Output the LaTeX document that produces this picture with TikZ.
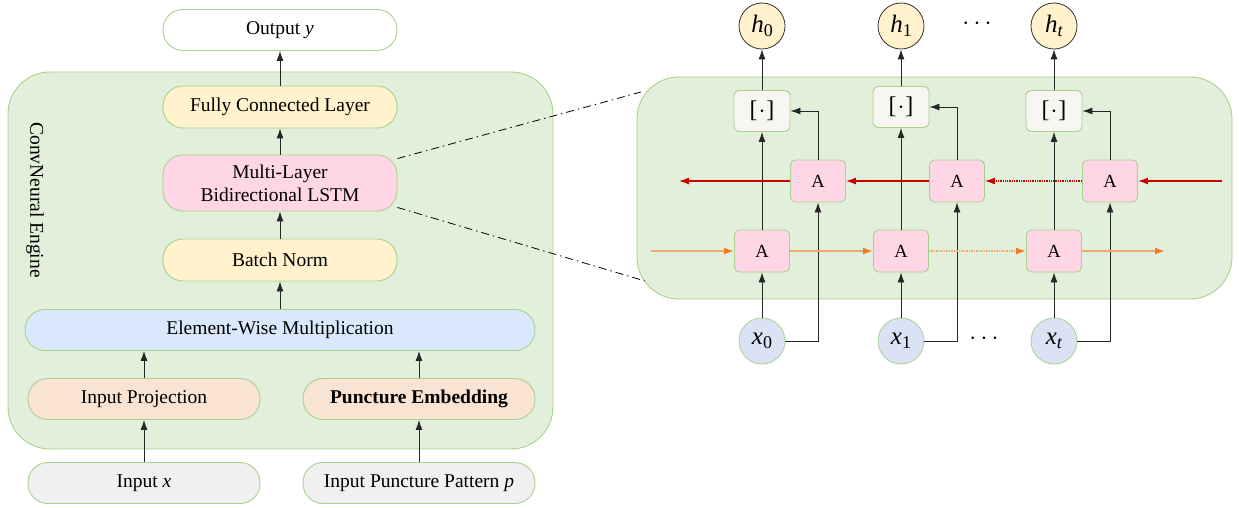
\documentclass[tikz,border=0pt]{standalone}
\usepackage{fontspec}
\setmainfont{Liberation Serif}
\usepackage{tikz}
\usetikzlibrary{arrows.meta}

\definecolor{engfill}{HTML}{E2EFDA}
\definecolor{engline}{HTML}{A9D18E}
\definecolor{fcfill}{HTML}{FFF2CC}
\definecolor{lstmfill}{HTML}{FFD6E6}
\definecolor{ewfill}{HTML}{DAE8FC}
\definecolor{projfill}{HTML}{F9E3D3}
\definecolor{infill}{HTML}{F0F0F0}
\definecolor{catfill}{HTML}{F7F6F3}
\definecolor{xfill}{HTML}{DAE3F3}
\definecolor{bwdred}{HTML}{CC0000}
\definecolor{fwdline}{HTML}{F0AA70}
\definecolor{fwdhead}{HTML}{F07C2A}

\newcommand\vsub[2]{\textit{#1}\raisebox{-.35ex}{\fontsize{18}{18}\selectfont #2}}

\tikzset{
  box/.style={draw=engline, line width=0.9pt, rounded corners=20pt,
    minimum width=234pt, minimum height=41pt, align=center,
    font=\fontsize{19.5}{23}\selectfont},
  cell/.style={draw=engline, line width=0.9pt, rounded corners=5pt, fill=lstmfill,
    minimum width=55pt, minimum height=42pt, font=\fontsize{18.5}{20}\selectfont},
  cat/.style={cell, fill=catfill, minimum width=56pt, minimum height=41pt,
    font=\fontsize{24}{24}\selectfont},
  state/.style={circle, draw=black!80, line width=0.8pt, fill=fcfill, inner sep=0pt,
    minimum size=46pt, font=\fontsize{25}{25}\selectfont},
  inp/.style={state, draw=engline, fill=xfill},
  arr/.style={-{Latex[length=10pt,width=7pt]}, line width=0.9pt, black!85},
  bwd/.style={-{Latex[length=10pt,width=7pt]}, line width=1.3pt, bwdred},
  fwd/.style={-{Latex[length=10pt,width=7pt,color=fwdhead]}, line width=1.5pt, fwdline},
  zoomline/.style={line width=0.8pt, dash pattern=on 8pt off 4pt on 1.5pt off 4pt}
}

\begin{document}
\begin{tikzpicture}[x=1pt,y=-1pt]
  \useasboundingbox (0,0) rectangle (1239,508);

  % Engine blocks
  \draw[engline, line width=0.9pt, fill=engfill, rounded corners=42pt]
    (8,72) rectangle (553,449); % engine
  \draw[engline, line width=0.9pt, fill=engfill, rounded corners=42pt]
    (637,77) rectangle (1232,299); % unrolled LSTM
  \node[rotate=-90, font=\fontsize{19.5}{23}\selectfont] (eng) at (35,200)
    {ConvNeural Engine};

  % Left stack
  \node[box, fill=white] (out) at (280,30) {Output \textit{y}};
  \node[box, fill=fcfill, minimum height=42pt] (fcl) at (280,107)
    {Fully Connected Layer};
  \node[box, fill=lstmfill, minimum height=56pt] (lstm) at (280,183)
    {Multi-Layer\\Bidirectional LSTM};
  \node[box, fill=fcfill, minimum height=42pt] (bn) at (280,260) {Batch Norm};
  \node[box, fill=ewfill, minimum width=510pt] (ewm) at (280,330)
    {Element-Wise Multiplication};
  \node[box, fill=projfill, minimum width=232pt] (proj) at (144,399)
    {Input Projection};
  \node[box, fill=projfill, minimum width=232pt] (pemb) at (419,399)
    {\textbf{Puncture Embedding}};
  \node[box, fill=infill, minimum width=232pt] (inx) at (144,483)
    {Input \textit{x}};
  \node[box, fill=infill, minimum width=232pt] (inpat) at (419,483)
    {Input Puncture Pattern \textit{p}};

  \draw[arr] (fcl) -- (out);
  \draw[arr] (lstm) -- (fcl);
  \draw[arr] (bn) -- (lstm);
  \draw[arr] (ewm) -- (bn);
  \draw[arr] (proj) -- (proj.north |- ewm.south);
  \draw[arr] (pemb) -- (pemb.north |- ewm.south);
  \draw[arr] (inx) -- (proj);
  \draw[arr] (inpat) -- (pemb);

  % Zoom lines
  \coordinate (zt) at (641,92);
  \coordinate (zb) at (645,281);
  \draw[zoomline] ([yshift=-4pt]lstm.north east) -- (zt);
  \draw[zoomline] ([yshift=4pt]lstm.south east) -- (zb);

  % Unrolled cells
  \foreach \i/\x/\cy/\s in {0/762/111/0, 1/901/107/1, 2/1054/111/{\textit{t}}} {
    \node[state] (h\i) at (\x,26) {\vsub{h}{\s}};
    \node[cat] (cat\i) at (\x,\cy) {[\kern1pt$\cdot$\kern1pt]};
    \node[cell] (bw\i) at (\x+56,181) {A};
    \node[cell] (fw\i) at (\x,251) {A};
    \node[inp] (x\i) at (\x,341) {\vsub{x}{\s}};
    \draw[arr] (x\i) -- (fw\i);
    \draw[arr] (fw\i) -- (cat\i);
    \draw[arr] (cat\i) -- (h\i);
    \draw[arr] (x\i.east) -| (bw\i);
    \draw[arr] (bw\i) |- (cat\i.east);
  }
  \node[font=\fontsize{28}{28}\selectfont] (dtop) at (977,24) {$\cdots$};
  \node[font=\fontsize{28}{28}\selectfont] (dbot) at (984,339) {$\cdots$};

  % Backward pass
  \coordinate (bwin) at (1222,181);
  \coordinate (bwout) at (679,181);
  \draw[bwd] (bwin) -- (bw2);
  \draw[bwd, densely dotted] (bw2) -- (bw1);
  \draw[bwd] (bw1) -- (bw0);
  \draw[bwd] (bw0) -- (bwout);

  % Forward pass
  \coordinate (fwin) at (651,251);
  \coordinate (fwout) at (1165,251);
  \draw[fwd] (fwin) -- (fw0);
  \draw[fwd] (fw0) -- (fw1);
  \draw[fwd, densely dotted] (fw1) -- (fw2);
  \draw[fwd] (fw2) -- (fwout);
\end{tikzpicture}
\end{document}
